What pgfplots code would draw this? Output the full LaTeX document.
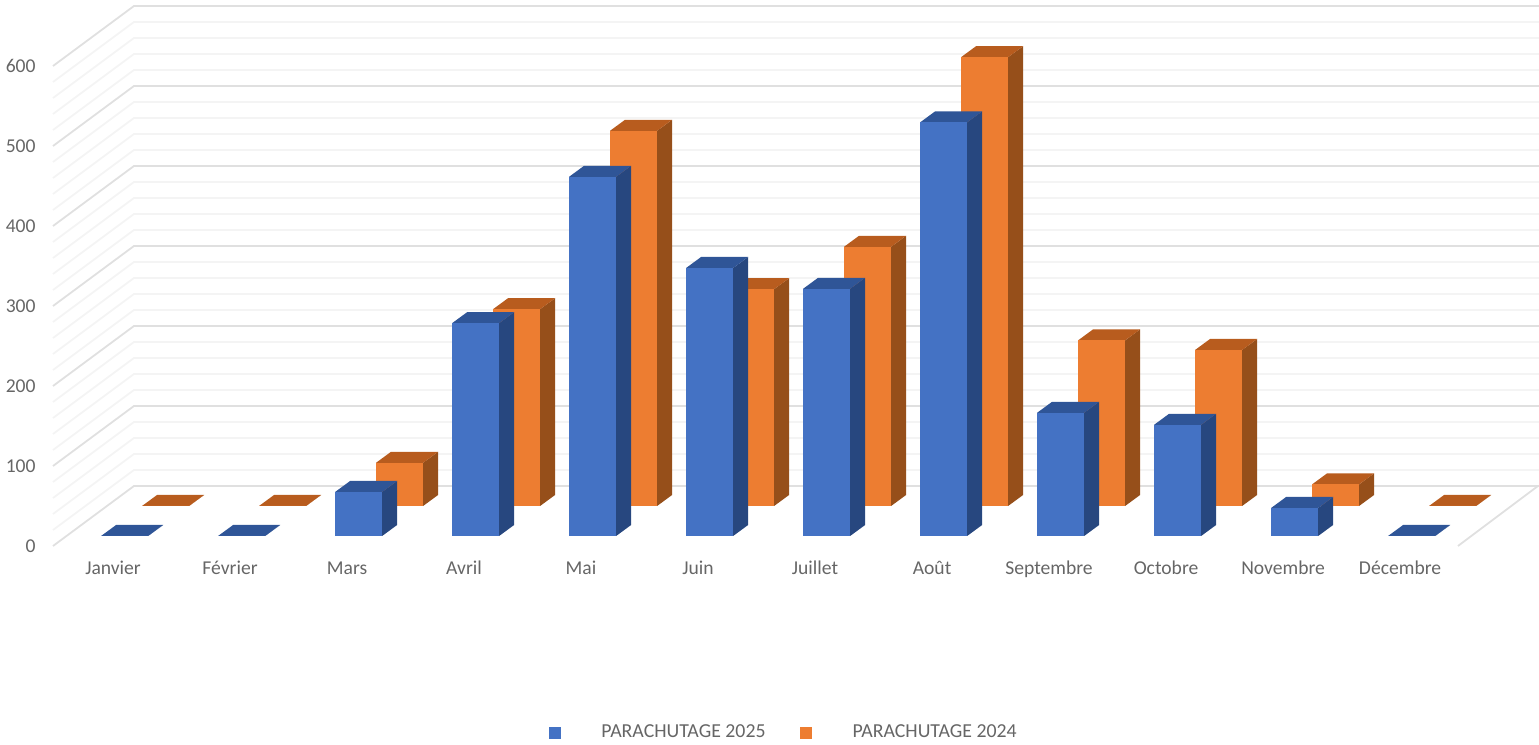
\documentclass[border=0pt]{standalone}
\usepackage{pgfplots}
\pgfplotsset{compat=1.18}
\usepackage{fontspec}
\setmainfont{Carlito}

\definecolor{txt}{HTML}{666666}
\definecolor{gridmaj}{HTML}{E0E0E0}
\definecolor{gridmin}{HTML}{F4F4F4}
\definecolor{bluefront}{HTML}{4472C4}
\definecolor{bluetop}{HTML}{2F5597}
\definecolor{blueside}{HTML}{27477F}
\definecolor{orangefront}{HTML}{ED7D31}
\definecolor{orangetop}{HTML}{B85C1E}
\definecolor{orangeside}{HTML}{964F1A}

% depth of a bar, in axis units (15 px across, 11 px up)
\def\ddx{0.128}
\def\ddy{13.75}
\def\bw{0.402}

% category, value, x offset, floor level, colour prefix
\newcommand{\threedbar}[5]{%
  \pgfmathsetmacro\xa{#1+#3}%
  \pgfmathsetmacro\xb{\xa+\bw}%
  \pgfmathsetmacro\xc{\xa+\ddx}%
  \pgfmathsetmacro\xd{\xb+\ddx}%
  \pgfmathsetmacro\ya{#4}%
  \pgfmathsetmacro\yb{#4+#2}%
  \pgfmathsetmacro\yc{\yb+\ddy}%
  \pgfmathsetmacro\yd{\ya+\ddy}%
  \addplot[forget plot,draw=none,fill=#5side] coordinates {(\xb,\ya)(\xb,\yb)(\xd,\yc)(\xd,\yd)} --cycle;
  \addplot[forget plot,draw=none,fill=#5top] coordinates {(\xa,\yb)(\xb,\yb)(\xd,\yc)(\xc,\yc)} --cycle;
  \addplot[forget plot,draw=none,fill=#5front] coordinates {(\xa,\ya)(\xb,\ya)(\xb,\yb)(\xa,\yb)} --cycle;
}
\newcommand{\bluebar}[2]{\threedbar{#1}{#2}{-0.2}{12.5}{blue}}
\newcommand{\orangebar}[2]{\threedbar{#1}{#2}{0.15}{50}{orange}}

% wall line: left end, corner, right end
\newcommand{\wallline}[2]{%
  \pgfmathsetmacro\yback{#1+75}%
  \addplot[forget plot,#2,line width=0.9pt] coordinates {(-0.611,#1)(0.081,\yback)(12.09,\yback)};
}

\begin{document}
\begin{tikzpicture}
\begin{axis}[
    scale only axis,
    width=769.5pt,
    height=370.5pt,
    xmin=-1.0641,
    xmax=12.0897,
    ymin=-243.75,
    ymax=682.5,
    axis line style={draw=none},
    tick style={draw=none},
    xtick={-0.098,0.902,1.902,2.902,3.902,4.902,5.902,6.902,7.902,8.902,9.902,10.902},
    xticklabels={Janvier,Février,Mars,Avril,Mai,Juin,Juillet,Août,Septembre,Octobre,Novembre,Décembre},
    ytick={0,100,200,300,400,500,600},
    /pgf/number format/assume math mode=true,
    ticklabel style={font=\fontsize{9.8}{11}\selectfont,text=txt,inner sep=0pt},
    xticklabel style={anchor=base,yshift=83pt},
    yticklabel style={anchor=east,xshift=18pt},
    legend columns=2,
    legend cell align=left,
    legend style={
        at={(0.5101,0.0108)},
        anchor=center,
        draw=none,
        fill=none,
        inner sep=0pt,
        font=\fontsize{9.9}{11}\selectfont\color{txt},
        /tikz/every odd column/.append style={column sep=18.5pt},
        /tikz/every even column/.append style={column sep=15.5pt},
    },
]
\pgfplotsinvokeforeach{20,40,60,80,120,140,160,180,220,240,260,280,320,340,360,380,420,440,460,480,520,540,560,580}{
  \wallline{#1}{gridmin}
}
\pgfplotsinvokeforeach{0,100,200,300,400,500,600}{
  \wallline{#1}{gridmaj}
}
\addplot[forget plot,gridmaj,line width=0.9pt] coordinates {(12.081,75)(11.397,0)};

\orangebar{0}{0}
\orangebar{1}{0}
\orangebar{2}{54}
\orangebar{3}{246}
\orangebar{4}{469}
\orangebar{5}{271}
\orangebar{6}{324}
\orangebar{7}{561}
\orangebar{8}{207}
\orangebar{9}{195}
\orangebar{10}{27}
\orangebar{11}{0}

\bluebar{0}{0}
\bluebar{1}{0}
\bluebar{2}{55}
\bluebar{3}{266}
\bluebar{4}{449}
\bluebar{5}{335}
\bluebar{6}{309}
\bluebar{7}{517}
\bluebar{8}{154}
\bluebar{9}{139}
\bluebar{10}{35}
\bluebar{11}{0}

\addlegendimage{only marks,mark=square*,mark size=2.75pt,color=bluefront}
\addlegendentry{PARACHUTAGE 2025}
\addlegendimage{only marks,mark=square*,mark size=2.75pt,color=orangefront}
\addlegendentry{PARACHUTAGE 2024}
\end{axis}
\end{tikzpicture}
\end{document}
